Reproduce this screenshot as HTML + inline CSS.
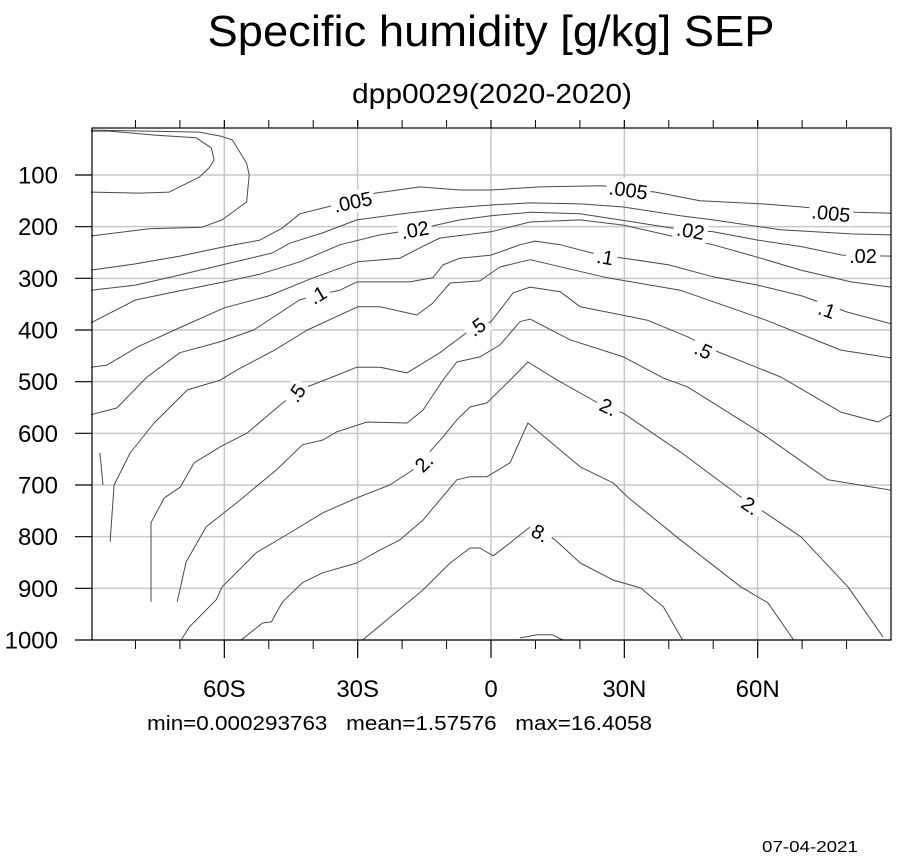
<!DOCTYPE html>
<html><head><meta charset="utf-8"><style>
html,body{margin:0;padding:0;background:#fff;}
svg{display:block;font-family:"Liberation Sans",Arial,sans-serif;}
</style></head><body>
<svg id="chart" width="901" height="861" viewBox="0 0 901 861" xmlns="http://www.w3.org/2000/svg">
<rect width="901" height="861" fill="#fff"/>
<text x="491" y="46" font-size="44" text-anchor="middle" textLength="567" lengthAdjust="spacingAndGlyphs">Specific humidity [g/kg] SEP</text>
<text x="492" y="103" font-size="28" text-anchor="middle" textLength="280" lengthAdjust="spacingAndGlyphs">dpp0029(2020-2020)</text>
<g id="grid"></g>
<g id="contours"></g>
<g id="labels"></g>
<g id="axes"></g>
<text x="147" y="730" font-size="20" textLength="505" lengthAdjust="spacingAndGlyphs">min=0.000293763&#160;&#160;&#160;mean=1.57576&#160;&#160;&#160;max=16.4058</text>
<text x="762" y="852" font-size="16" textLength="96" lengthAdjust="spacingAndGlyphs">07-04-2021</text>
</svg>
<script>
const xTickLats = [-60, -30, 0, 30, 60];
const xTickLabels = ["60S", "30S", "0", "30N", "60N"];
const xMinorLats = [-80, -70, -50, -40, -20, -10, 10, 20, 40, 50, 70, 80];
const yTickVals = [100, 200, 300, 400, 500, 600, 700, 800, 900, 1000];
const yTickLabels = ["100", "200", "300", "400", "500", "600", "700", "800", "900", "1000"];

const c001Lat = [-90,-85.9,-75.3,-66.3,-62.9,-62.3,-63.4,-65.6,-72.4,-79.2,-90];
const c001P = [15,15,23,28,48,71,86,104,133,135,133];
const c002Lat = [-90,-65.6,-60.7,-58.2,-55.0,-54.4,-55.0,-60.5,-65.0,-76.9,-90];
const c002P = [13,17,25,32,77,100,152,187,201,204,218];
const c005Lat = [-90,-80,-70,-60,-52,-47,-43,-36,-26,-16,-7,0,11,25,37,47,61,70,82,90];
const c005P = [284,272,257,239,226,203,175,160,135,123,129,129,123,121,133,150,156,162,172,174];
const c01Lat = [-90,-80,-71.7,-60.5,-49.2,-45.3,-37.9,-30.2,-19,-9.2,0,8.8,20.1,29.8,42.6,50,65.2,81,90];
const c01P = [323,313,297,274,251,232,212,187,174,164,158,154,156,162,179,187,206,214,216];
const c02Lat = [-90,-80,-70,-60,-52,-43,-34,-25,-16,-7,0,9,20,29,41,50,60,70,79,90];
const c02P = [386,342,324,307,292,268,235,216,204,187,179,172,175,187,203,210,226,239,255,257];
const c05Lat = [-90,-86.4,-79.6,-71.2,-60,-50,-40,-30,-20.5,-16,-11.5,0,8.8,20,29.8,42.6,50,60.7,69.7,81,90];
const c05P = [472,468,433,400,357,334,299,268,261,241,222,210,191,187,197,222,235,261,284,307,317];
const c1Lat = [-90,-84.2,-77.4,-70,-61,-53.4,-43.1,-39,-34,-30.2,-18.3,-13.1,-10.8,-7,0,6.5,9.9,15.6,24.6,30,40,50,60,69.9,80,90];
const c1P = [564,551,491,444,423,400,342,332,323,307,307,299,274,261,255,235,228,235,255,261,274,297,313,334,365,388];
const c2Lat = [-85.7,-84.8,-81.2,-75.8,-68.3,-60.9,-57.1,-48.7,-41.3,-30,-25,-16.7,-13.1,-9.2,-2.5,2,8.8,26.2,42.6,61.9,78.7,90];
const c2P = [810,700,638,580,516,497,477,439,400,355,355,371,348,309,305,278,264,299,323,381,439,454];
const c5Lat = [-76.5,-76.5,-73.5,-69.9,-66.8,-60.9,-54.8,-47.4,-43.1,-36.3,-30.2,-25,-18.9,-11.5,-4.7,0,5,8.8,15.6,20.1,35.2,44.2,50.1,65.2,78.7,87.1,90];
const c5P = [926,773,725,704,657,626,599,545,516,493,472,472,483,444,400,384,328,317,326,355,381,413,439,491,559,578,564];
const c5bLat = [-88, -87.3];
const c5bP = [638, 700];
const c10Lat = [-70.6,-68.6,-64.1,-57.3,-48.3,-42.4,-37.9,-34.7,-27.9,-18.9,-15.3,-10.8,-7.7,-2.5,2,6.5,8.8,17.8,29.8,38.8,44.2,60.7,75.8,90];
const c10P = [926,849,781,735,671,622,613,597,578,580,555,497,462,452,429,384,379,419,452,493,510,599,690,710];
const c20Lat = [-69.7,-67.9,-61.8,-60.5,-52.8,-45.3,-37.9,-30.2,-22.8,-17.6,-13.8,-10.8,-7.7,-4.7,-0.9,4.3,8.3,14.9,25.7,29.8,42.6,56.2,61.4,69.7,80.3,88.2];
const c20P = [1000,975,922,897,831,793,754,725,700,671,636,607,574,549,541,497,462,497,549,561,636,723,752,800,897,994];
const c40Lat = [-56.2,-51.4,-49.4,-46.9,-42.4,-37.9,-30.2,-25,-20.5,-15.3,-7.7,-4.7,-0.9,4.3,8.3,20.1,27.5,30.7,42.6,56.2,62.3,68.1];
const c40P = [1000,967,965,926,889,870,851,826,806,768,690,684,684,657,580,665,696,723,806,897,928,1000];
const c80Lat = [-28.9,-19.9,-15.3,-9.2,-4.7,-2.5,0.5,4.3,8.8,11.1,14.4,20.1,27.5,33.6,38.8,43.1];
const c80P = [1000,936,903,851,822,822,837,812,781,787,806,851,884,899,936,1000];
const c160Lat = [6.5,10.4,13.8,16.2];
const c160P = [996,990,990,1000];

const labelText = [".005",".005",".005",".02",".02",".02",".1",".1",".1",".5",".5",".5","2.","2.","2.","8."];
const labelLat = [-31.1,30.9,76.5,-17.1,44.9,83.7,-39,25.7,75.6,-43.8,-3.2,47.8,-15.1,26.4,58.4,11.1];
const labelP = [152,129,174,206,208,257,332,259,361,522,394,439,657,549,740,793];
const labelRot = [-12,8,6,-10,10,0,-30,10,20,-55,-35,25,-45,25,35,30];

const PX0 = 92, PX1 = 891, PY0 = 128, PY1 = 640;
function xs(lat){ return 491 + lat * (PX1 - 491) / 90; }
function ys(p){ return 175 + (p - 100) * (PY1 - 175) / 900; }
const NS = "http://www.w3.org/2000/svg";
function mk(tag, attrs, parent){ const e = document.createElementNS(NS, tag); for (const k in attrs) e.setAttribute(k, attrs[k]); parent.appendChild(e); return e; }

const grid = document.getElementById("grid");
xTickLats.forEach(l => {
  const g = mk("line", {x1: xs(l), x2: xs(l), y1: PY0, y2: PY1, stroke: "#c8c8c8", "stroke-width": 1.5}, grid);
  
  
});
yTickVals.forEach(v => {
  const g = mk("line", {x1: PX0, x2: PX1, y1: ys(v), y2: ys(v), stroke: "#c8c8c8", "stroke-width": 1.5}, grid);
  
  
});

const contours = document.getElementById("contours");
const lines = [
  ["contour-0.001", c001Lat, c001P], ["contour-0.002", c002Lat, c002P],
  ["contour-0.005", c005Lat, c005P], ["contour-0.01", c01Lat, c01P],
  ["contour-0.02", c02Lat, c02P], ["contour-0.05", c05Lat, c05P],
  ["contour-0.1", c1Lat, c1P], ["contour-0.2", c2Lat, c2P],
  ["contour-0.5", c5Lat, c5P], ["contour-0.5-fragment", c5bLat, c5bP],
  ["contour-1", c10Lat, c10P], ["contour-2", c20Lat, c20P],
  ["contour-4", c40Lat, c40P], ["contour-8", c80Lat, c80P],
  ["contour-16", c160Lat, c160P]
];
lines.forEach(([name, la, pr]) => {
  const pts = la.map((l, i) => xs(l).toFixed(1) + "," + ys(pr[i]).toFixed(1)).join(" ");
  const pl = mk("polyline", {points: pts, fill: "none", stroke: "#4a4a4a", "stroke-width": 1, "stroke-linejoin": "round"}, contours);
  
  
});

const labels = document.getElementById("labels");
labelText.forEach((t, i) => {
  const x = xs(labelLat[i]), y = ys(labelP[i]);
  const g = mk("g", {transform: "translate(" + x + "," + y + ") rotate(" + labelRot[i] + ")"}, labels);
  
  
  const w = t.length * 10 + 4;
  mk("rect", {x: -w/2, y: -11, width: w, height: 22, fill: "#fff"}, g);
  const tx = mk("text", {x: 0, y: 7, "font-size": 20, "text-anchor": "middle"}, g);
  tx.textContent = t;
});

const axes = document.getElementById("axes");
const frame = mk("rect", {x: PX0, y: PY0, width: PX1 - PX0, height: PY1 - PY0, fill: "none", stroke: "#000", "stroke-width": 1.2}, axes);


xTickLats.forEach((l, i) => {
  const x = xs(l);
  mk("line", {x1: x, x2: x, y1: PY1, y2: PY1 + 18, stroke: "#000", "stroke-width": 1.2}, axes);
  mk("line", {x1: x, x2: x, y1: PY0, y2: PY0 - 8, stroke: "#000", "stroke-width": 1.2}, axes);
  const t = mk("text", {x: x, y: 697, "font-size": 24, "text-anchor": "middle"}, axes);
  t.textContent = xTickLabels[i];
  
  
});
xMinorLats.forEach(l => {
  const x = xs(l);
  mk("line", {x1: x, x2: x, y1: PY1, y2: PY1 + 9, stroke: "#000", "stroke-width": 1}, axes);
  mk("line", {x1: x, x2: x, y1: PY0, y2: PY0 - 8, stroke: "#000", "stroke-width": 1}, axes);
});
yTickVals.forEach((v, i) => {
  const y = ys(v);
  mk("line", {x1: PX0 - 17, x2: PX0, y1: y, y2: y, stroke: "#000", "stroke-width": 1.2}, axes);
  const t = mk("text", {x: 58, y: y + 8.5, "font-size": 24, "text-anchor": "end"}, axes);
  t.textContent = yTickLabels[i];
  
  
});
</script>
</body></html>
